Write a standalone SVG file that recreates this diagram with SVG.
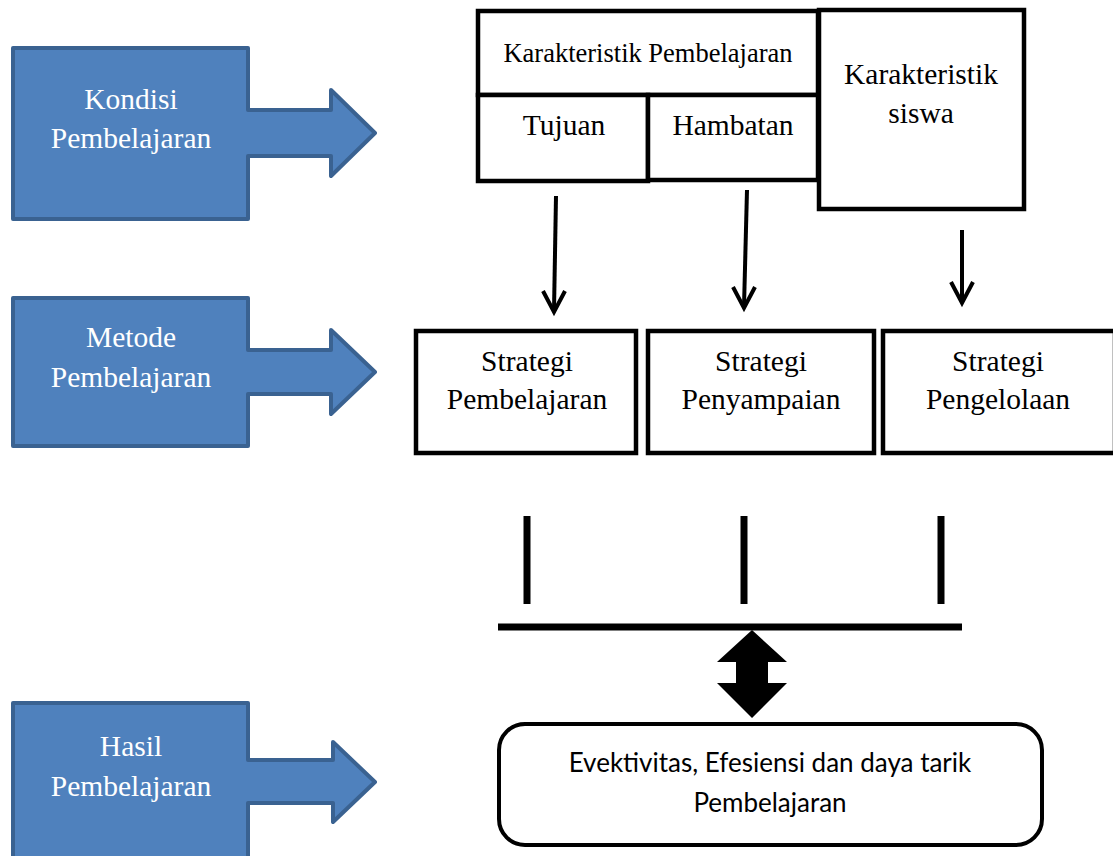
<svg xmlns="http://www.w3.org/2000/svg" width="1113" height="856" viewBox="0 0 1113 856">
<style>
.blue{fill:#4F81BD;stroke:#3A6291;stroke-width:4;stroke-linejoin:round}
.wt{font-family:"Liberation Serif",serif;font-size:29.5px;fill:#fff;text-anchor:middle}
.bt{font-family:"Liberation Serif",serif;font-size:29.5px;fill:#000;text-anchor:middle}
.sm{font-size:26.5px}
.box{fill:#fff;stroke:#000;stroke-width:4.5}
.ln{stroke:#000;stroke-width:4;fill:none}
.bar{stroke:#000;stroke-width:7;fill:none}
.cal{font-family:Lato,"Open Sans",sans-serif;font-size:26px;fill:#000;text-anchor:middle}
</style>
<rect width="1113" height="856" fill="#fff"/>
<g id="kondisi">
<path class="blue" d="M13,48 H248 V110 H331 V90 L375,133 L331,176 V156 H248 V219 H13 Z"/>
<text class="wt" x="131" y="109">Kondisi</text>
<text class="wt" x="131" y="148">Pembelajaran</text>
</g>
<g id="metode">
<path class="blue" d="M13,298 H248 V350 H331 V330 L375,372 L331,414 V394 H248 V446 H13 Z"/>
<text class="wt" x="131" y="347">Metode</text>
<text class="wt" x="131" y="387">Pembelajaran</text>
</g>
<g id="hasil">
<path class="blue" d="M13,703 H248 V760 H333 V742 L375,782 L333,822 V803 H248 V870 H13 Z"/>
<text class="wt" x="131" y="756">Hasil</text>
<text class="wt" x="131" y="796">Pembelajaran</text>
</g>
<g id="karakteristik-pembelajaran">
<rect class="box" x="478" y="11" width="340" height="84"/>
<text class="bt sm" x="648" y="62">Karakteristik Pembelajaran</text>
</g>
<g id="tujuan">
<rect class="box" x="478" y="95" width="170" height="86"/>
<text class="bt" x="564" y="135">Tujuan</text>
</g>
<g id="hambatan">
<rect class="box" x="648" y="95" width="170" height="85"/>
<text class="bt" x="733" y="135">Hambatan</text>
</g>
<g id="karakteristik-siswa">
<rect class="box" x="819" y="10" width="205" height="199"/>
<text class="bt" x="921" y="84">Karakteristik</text>
<text class="bt" x="921" y="123">siswa</text>
</g>
<g id="strategi-pembelajaran">
<rect class="box" x="416" y="331" width="220" height="122"/>
<text class="bt" x="527" y="371">Strategi</text>
<text class="bt" x="527" y="409">Pembelajaran</text>
</g>
<g id="strategi-penyampaian">
<rect class="box" x="648" y="331" width="226" height="122"/>
<text class="bt" x="761" y="371">Strategi</text>
<text class="bt" x="761" y="409">Penyampaian</text>
</g>
<g id="strategi-pengelolaan">
<rect class="box" x="883" y="331" width="232" height="122"/>
<text class="bt" x="998" y="371">Strategi</text>
<text class="bt" x="998" y="409">Pengelolaan</text>
</g>
<g id="hasil-akhir">
<rect x="499" y="724" width="543" height="121" rx="26" ry="26" fill="#fff" stroke="#000" stroke-width="4"/>
<text class="cal" x="770" y="772">Evektivitas, Efesiensi dan daya tarik</text>
<text class="cal" x="770" y="812">Pembelajaran</text>
</g>
<g id="connectors">
<line class="ln" x1="556" y1="196" x2="554" y2="311"/>
<polyline class="ln" points="543,291 554,312 565,291"/>
<line class="ln" x1="747" y1="190" x2="744" y2="307"/>
<polyline class="ln" points="733,287 744,308 755,287"/>
<line class="ln" x1="962" y1="230" x2="962" y2="302"/>
<polyline class="ln" points="951,282 962,303 973,282"/>
<line class="bar" x1="527" y1="516" x2="527" y2="604"/>
<line class="bar" x1="744" y1="516" x2="744" y2="604"/>
<line class="bar" x1="941" y1="516" x2="941" y2="604"/>
<line class="bar" x1="498" y1="627" x2="962" y2="627"/>
<path d="M752,630 L787,662 H768 V683 H787 L752,718 L717,683 H736 V662 H717 Z" fill="#000"/>
</g>
</svg>
